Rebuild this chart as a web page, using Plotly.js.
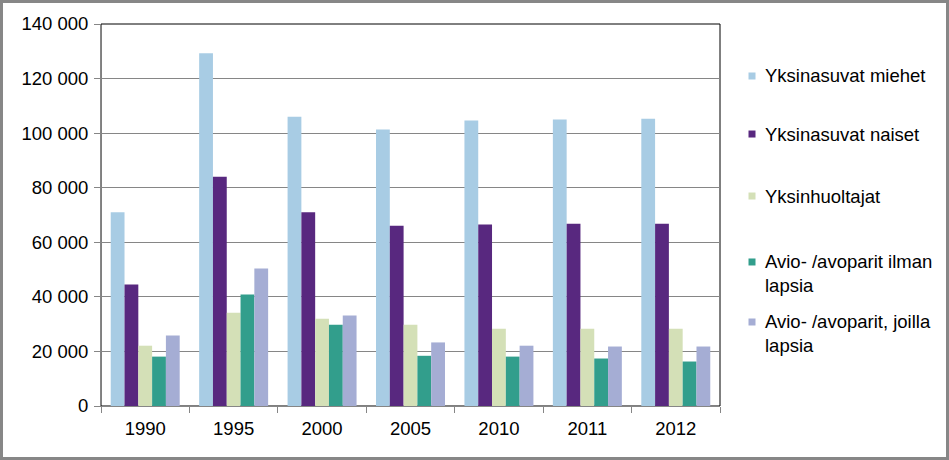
<!DOCTYPE html>
<html>
<head>
<meta charset="utf-8">
<script src="https://cdn.plot.ly/plotly-3.0.1.min.js"></script>
<style>
  html, body { margin: 0; padding: 0; background: #fff; }
  #wrap { position: relative; width: 949px; height: 460px; }
  #chart { width: 949px; height: 460px; }
  #frame { position: absolute; left: 0; top: 0; width: 949px; height: 460px; box-sizing: border-box; border: 3px solid #878787; pointer-events: none; }
</style>
</head>
<body>
<div id="wrap"><div id="chart"></div><div id="frame"></div></div>
<script>
const years = ['1990', '1995', '2000', '2005', '2010', '2011', '2012'];
const seriesNames = [
  'Yksinasuvat miehet',
  'Yksinasuvat naiset',
  'Yksinhuoltajat',
  'Avio- /avoparit ilman<br>lapsia',
  'Avio- /avoparit, joilla<br>lapsia'
];
const yksinasuvatMiehet = [71000, 129300, 106000, 101300, 104600, 105000, 105300];
const yksinasuvatNaiset = [44500, 84000, 71000, 66100, 66500, 66800, 66800];
const yksinhuoltajat = [22100, 34200, 32000, 29800, 28300, 28300, 28300];
const paritIlmanLapsia = [18100, 40900, 29800, 18400, 18100, 17400, 16300];
const paritJoillaLapsia = [25800, 50400, 33200, 23300, 22100, 21800, 21800];
const yTickVals = [0, 20000, 40000, 60000, 80000, 100000, 120000, 140000];
const yTickText = ['0', '20 000', '40 000', '60 000', '80 000', '100 000', '120 000', '140 000'];

const colors = ['#A8CCE4', '#58287F', '#D4E0B7', '#329E8C', '#A5ADD4'];
const allSeries = [yksinasuvatMiehet, yksinasuvatNaiset, yksinhuoltajat, paritIlmanLapsia, paritJoillaLapsia];

// legend placement (paper coords relative to plot area)
const legTextX = 1.0695, legMarkX = 1.0517;
const legTextY = [0.8639, 0.7120, 0.5497, 0.3469, 0.1898];
const legMarkY = [0.8639, 0.7120, 0.5497, 0.3770, 0.2199];

const traces = allSeries.map((vals, i) => ({
  type: 'bar', x: years, y: vals, name: seriesNames[i].replace('<br>', ' '),
  marker: { color: colors[i], line: { width: 0 } },
  showlegend: false
}));

const font = { family: 'Liberation Sans, Arial, sans-serif', size: 18.5, color: '#000' };

const shapes = [{
  type: 'rect', xref: 'paper', yref: 'paper', x0: 0, x1: 1, y0: 0, y1: 1,
  line: { color: '#000', width: 1 }, layer: 'below'
}];
const annotations = [];
seriesNames.forEach((name, i) => {
  shapes.push({
    type: 'rect', xref: 'paper', yref: 'paper',
    xsizemode: 'pixel', ysizemode: 'pixel',
    xanchor: legMarkX, yanchor: legMarkY[i],
    x0: -3.5, x1: 3.5, y0: -3.5, y1: 3.5,
    fillcolor: colors[i], line: { width: 0 }
  });
  annotations.push({
    xref: 'paper', yref: 'paper', x: legTextX, y: legTextY[i],
    xanchor: 'left', yanchor: 'middle', align: 'left',
    text: name, showarrow: false, font: font
  });
});

const layout = {
  width: 949, height: 460,
  margin: { l: 101, r: 229, t: 24, b: 54 },
  paper_bgcolor: '#fff', plot_bgcolor: '#fff',
  font: font, showlegend: false,
  barmode: 'group', bargap: 0.22, bargroupgap: 0,
  xaxis: {
    type: 'category', showline: true, linecolor: '#868686', linewidth: 1,
    ticks: 'outside', tickson: 'boundaries', ticklen: 6, tickcolor: '#868686',
    showgrid: false, zeroline: false, tickfont: font, ticklabelstandoff: 6
  },
  yaxis: {
    range: [0, 140000], tickvals: yTickVals, ticktext: yTickText,
    showline: true, linecolor: '#868686', linewidth: 1,
    ticks: 'outside', ticklen: 6, tickcolor: '#868686',
    showgrid: true, gridcolor: '#868686', gridwidth: 1,
    zeroline: false, tickfont: font, ticklabelstandoff: 2
  },
  shapes: shapes,
  annotations: annotations
};

Plotly.newPlot('chart', traces, layout, { displayModeBar: false, staticPlot: true });
</script>
</body>
</html>
